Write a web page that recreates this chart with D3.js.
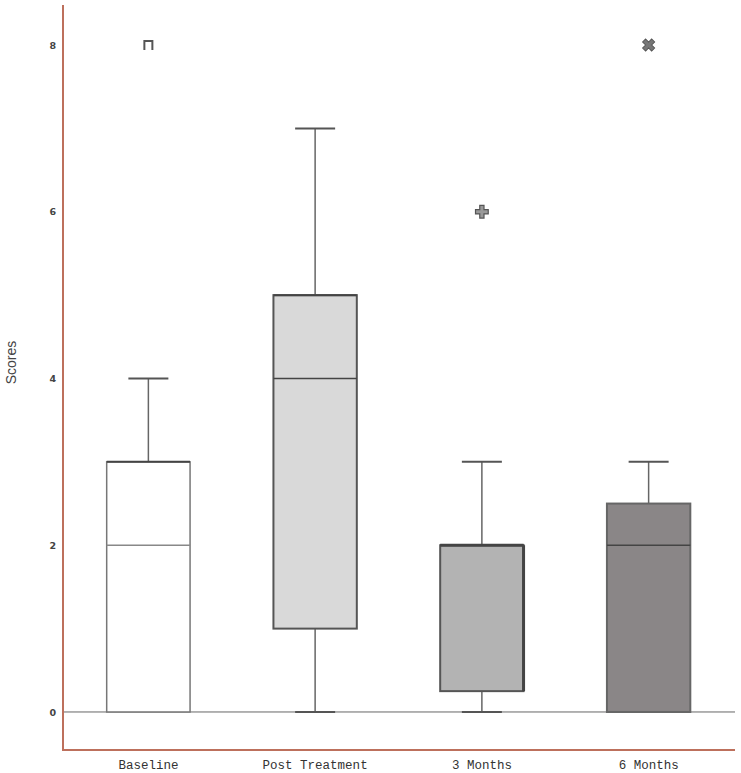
<!DOCTYPE html>
<html><head><meta charset="utf-8">
<script src="https://cdn.jsdelivr.net/npm/d3@7"></script>
<style>body{margin:0;background:#fff}svg{display:block}</style>
</head><body>
<svg id="c" width="741" height="773"></svg>
<script>
const categories = ["Baseline", "Post Treatment", "3 Months", "6 Months"];
const lowWhisker = [0, 0, 0, 0];
const q1 = [0, 1, 0.25, 0];
const median = [2, 4, 2, 2];
const q3 = [3, 5, 2, 2.5];
const highWhisker = [4, 7, 3, 3];
const outliers = [[8], [], [6], [8]];
const outlierShapes = ["open", "none", "plus", "x"];
const fills = ["#ffffff", "#d9d9d9", "#b3b3b3", "#8a8687"];
const yTicks = [0, 2, 4, 6, 8];

(function () {
const svg = d3.select("#c");
const mLeft = 63, mRight = 735, mTop = 5, mBottom = 750;
const y = d3.scaleLinear().domain([-0.456, 8.48]).range([mBottom, mTop]);
const x = d3.scaleBand().domain(categories).range([65, 732]).paddingInner(0.5).paddingOuter(0.25);

svg.append("line").attr("x1", mLeft).attr("x2", mRight).attr("y1", y(0)).attr("y2", y(0))
  .attr("stroke", "#666").attr("stroke-width", 1);

const yAxis = d3.axisLeft(y).tickValues(yTicks).tickSize(0).tickPadding(7);
const ga = svg.append("g").attr("transform", `translate(${mLeft},0)`).call(yAxis);
ga.select(".domain").remove();
ga.selectAll("text").attr("font-family", "DejaVu Sans").attr("font-weight", "bold").attr("font-size", 9.5).attr("fill", "#444");

const xAxis = d3.axisBottom(x).tickSize(0).tickPadding(10);
const gx = svg.append("g").attr("transform", `translate(0,${mBottom})`).call(xAxis);
gx.select(".domain").remove();
gx.selectAll("text").attr("font-family", "Liberation Mono").attr("font-size", 12.5).attr("fill", "#333");

svg.append("line").attr("x1", mLeft).attr("x2", mLeft).attr("y1", mTop).attr("y2", mBottom + 1)
  .attr("stroke", "#bd705c").attr("stroke-width", 2);
svg.append("line").attr("x1", mLeft - 1).attr("x2", mRight).attr("y1", mBottom).attr("y2", mBottom)
  .attr("stroke", "#bd705c").attr("stroke-width", 2);

svg.append("text").attr("transform", `translate(16,${(mTop + mBottom) / 2 - 15}) rotate(-90)`)
  .attr("text-anchor", "middle").attr("font-family", "Liberation Sans").attr("font-size", 14)
  .attr("fill", "#444").text("Scores");

const capW = 40;
categories.forEach((c, i) => {
  const bx = x(c), bw = x.bandwidth(), cx = bx + bw / 2;
  const g = svg.append("g");
  if (highWhisker[i] > q3[i]) {
    g.append("line").attr("x1", cx).attr("x2", cx).attr("y1", y(q3[i])).attr("y2", y(highWhisker[i])).attr("stroke", "#666").attr("stroke-width", 1.5);
    g.append("line").attr("x1", cx - capW / 2).attr("x2", cx + capW / 2).attr("y1", y(highWhisker[i])).attr("y2", y(highWhisker[i])).attr("stroke", "#555").attr("stroke-width", 2);
  }
  if (lowWhisker[i] < q1[i]) {
    g.append("line").attr("x1", cx).attr("x2", cx).attr("y1", y(q1[i])).attr("y2", y(lowWhisker[i])).attr("stroke", "#666").attr("stroke-width", 1.5);
    g.append("line").attr("x1", cx - capW / 2).attr("x2", cx + capW / 2).attr("y1", y(lowWhisker[i])).attr("y2", y(lowWhisker[i])).attr("stroke", "#555").attr("stroke-width", 2);
  }
  g.append("rect").attr("x", bx).attr("width", bw).attr("y", y(q3[i])).attr("height", y(q1[i]) - y(q3[i]))
    .attr("fill", fills[i]).attr("stroke", i === 0 ? "#777" : (i === 3 ? "#666" : "#555")).attr("stroke-width", i === 0 ? 1.5 : 2);
  if (i !== 3) {
    g.append("line").attr("x1", bx).attr("x2", bx + bw).attr("y1", y(q3[i])).attr("y2", y(q3[i]))
      .attr("stroke", "#444").attr("stroke-width", i === 2 ? 3 : 2);
  }
  if (i === 2) {
    g.append("line").attr("x1", bx + bw).attr("x2", bx + bw).attr("y1", y(q3[i])).attr("y2", y(q1[i]))
      .attr("stroke", "#444").attr("stroke-width", 3);
  }
  g.append("line").attr("x1", bx).attr("x2", bx + bw).attr("y1", y(median[i])).attr("y2", y(median[i]))
    .attr("stroke", i === 0 ? "#888" : "#444").attr("stroke-width", 1.5);
  outliers[i].forEach(v => {
    const oy = y(v);
    if (outlierShapes[i] === "open") {
      g.append("path").attr("d", `M${cx - 4},${oy + 5}V${oy - 4}H${cx + 4}V${oy + 5}`)
        .attr("fill", "none").attr("stroke", "#555").attr("stroke-width", 2);
    } else if (outlierShapes[i] === "plus") {
      g.append("path").attr("transform", `translate(${cx},${oy})`).attr("d", d3.symbol(d3.symbolCross, 90)())
        .attr("fill", "#999").attr("stroke", "#555").attr("stroke-width", 1.2);
    } else if (outlierShapes[i] === "x") {
      g.append("path").attr("transform", `translate(${cx},${oy}) rotate(45)`).attr("d", d3.symbol(d3.symbolCross, 90)())
        .attr("fill", "#777").attr("stroke", "#555").attr("stroke-width", 1);
    }
  });
});
})();
</script>
</body></html>
